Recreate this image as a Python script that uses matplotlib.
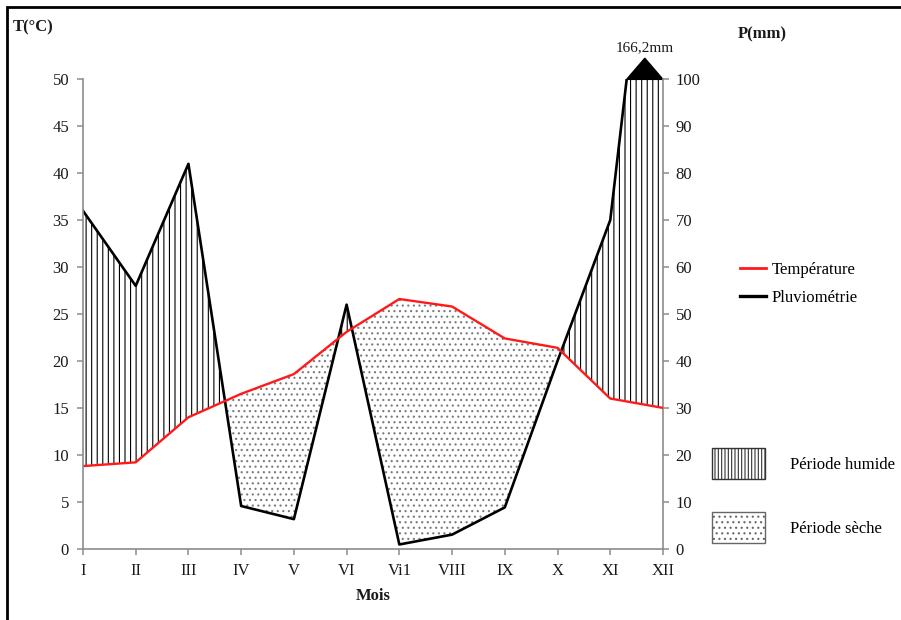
import matplotlib.pyplot as plt
from matplotlib.patches import Rectangle, Patch, Polygon
from matplotlib.lines import Line2D
import numpy as np

mois = ["I", "II", "III", "IV", "V", "VI", "Vi1", "VIII", "IX", "X", "XI", "XII"]
temperature = [8.8, 9.2, 14.0, 16.5, 18.6, 23.1, 26.6, 25.8, 22.4, 21.4, 16.0, 15.0]
pluviometrie = [72, 56, 82, 9.1, 6.3, 52, 0.9, 3, 8.8, 40, 70, 166.2]
p_max = 100

plt.rcParams['font.family'] = ['Liberation Serif', 'DejaVu Serif']
plt.rcParams['hatch.linewidth'] = 0.8

x = np.arange(len(mois))
T = np.array(temperature)
P = np.array(pluviometrie)

fig = plt.figure(figsize=(9.01, 6.20), dpi=100)
ax = fig.add_axes([0.0921, 0.115, 0.6437, 0.757])
ax2 = ax.twinx()

grey = '#8c8c8c'
txt = '#1a1a1a'

# zones humide / seche sur l'axe P (P = 2T)
ax2.fill_between(x, P, 2 * T, where=P >= 2 * T, interpolate=True,
                 facecolor='none', edgecolor='black', hatch='|||', linewidth=0)
ax2.fill_between(x, P, 2 * T, where=P <= 2 * T, interpolate=True,
                 facecolor='none', edgecolor='#7a7a7a', hatch='...', linewidth=0)
ax2.plot(x, P, color='black', lw=1.9)

ax.plot(x, T, color='#ff1a1a', lw=1.7)
ax.set_zorder(ax2.get_zorder() + 1)
ax.patch.set_visible(False)

# triangle de depassement (166,2 mm)
i = len(P) - 2
t = (p_max - P[i]) / (P[i + 1] - P[i])
x0 = x[i] + t
x1 = x[i + 1]
xm = (x0 + x1) / 2
tri = Polygon([[x0, p_max], [x1, p_max], [xm, p_max + 4.5]], closed=True,
              color='black', clip_on=False)
ax2.add_patch(tri)
ax2.annotate("166,2mm", xy=(xm, p_max + 4.5), xytext=(0, 3), textcoords='offset points',
             ha='center', va='bottom', fontsize=11, color=txt, annotation_clip=False)

ax.set_xlim(0, 11)
ax.set_ylim(0, 50)
ax2.set_ylim(0, 100)
ax.set_xticks(x)
ax.set_xticklabels(mois)
ax.set_yticks(np.arange(0, 51, 5))
ax2.set_yticks(np.arange(0, 101, 10))

for a in (ax, ax2):
    a.spines['top'].set_visible(False)
    for s in ('left', 'right', 'bottom'):
        a.spines[s].set_color(grey)
        a.spines[s].set_linewidth(1.2)
    a.tick_params(colors=grey, labelcolor=txt, labelsize=12, length=4, width=1.1)
ax.tick_params(axis='y', pad=6)
ax.tick_params(axis='x', pad=6)
ax2.tick_params(axis='y', pad=5)
ax.spines['right'].set_visible(False)
ax2.spines['left'].set_visible(False)
ax2.spines['bottom'].set_visible(False)

ax.set_xlabel("Mois", fontweight='bold', fontsize=12, labelpad=7, color=txt)
fig.text(0.0144, 0.956, "T(°C)", fontweight='bold', fontsize=12, va='center', color=txt)
fig.text(0.819, 0.945, "P(mm)", fontweight='bold', fontsize=12, va='center', color=txt)

lignes = [Line2D([], [], color='#ff1a1a', lw=2), Line2D([], [], color='black', lw=2.4)]
fig.legend(lignes, ["Température", "Pluviométrie"], loc='upper left',
           bbox_to_anchor=(0.821, 0.577), frameon=False, fontsize=12,
           handlelength=1.6, handletextpad=0.3, labelspacing=0.7,
           borderaxespad=0, borderpad=0)

periodes = [Patch(facecolor='white', edgecolor='#333333', hatch='|||||', lw=1),
            Patch(facecolor='white', edgecolor='#666666', hatch='...', lw=1)]
fig.legend(periodes, ["Période humide", "Période sèche"], loc='upper left',
           bbox_to_anchor=(0.790, 0.2774), frameon=False, fontsize=12,
           handlelength=3.2, handleheight=2.485, handletextpad=1.5, labelspacing=1.98,
           borderaxespad=0, borderpad=0)

# cadre
fig.add_artist(Rectangle((0.0078, -0.1), 1.2, 1.0887, transform=fig.transFigure,
                         fill=False, lw=2, edgecolor='black'))

plt.savefig("out.png", dpi=100)
